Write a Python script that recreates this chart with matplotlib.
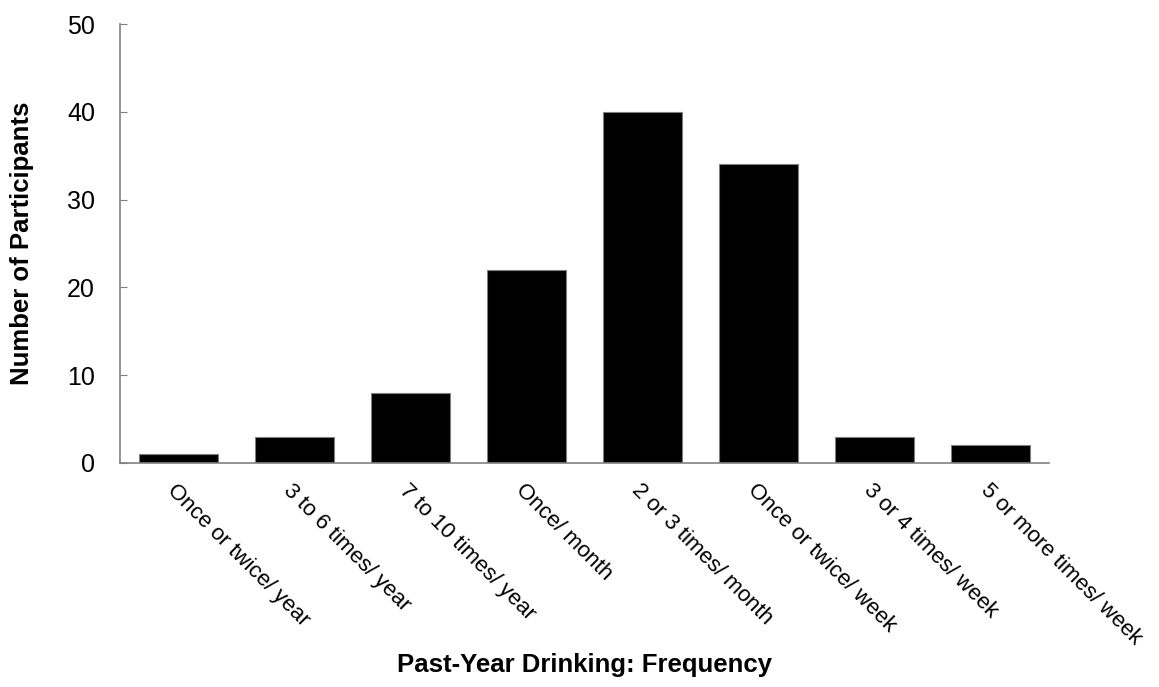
import numpy as np
import matplotlib.pyplot as plt

plt.rcParams['font.family'] = ['Liberation Sans', 'DejaVu Sans']

#-----------------------
#        Data
#-----------------------
categories = ['Once or twice/ year', '3 to 6 times/ year', '7 to 10 times/ year',
              'Once/ month', '2 or 3 times/ month', 'Once or twice/ week',
              '3 or 4 times/ week', '5 or more times/ week']
participants = [1, 3, 8, 22, 40, 34, 3, 2]
y_ticks = [0, 10, 20, 30, 40, 50]

fig = plt.figure(figsize=(11.59, 6.87), dpi=100)
ax = fig.add_axes([120/1159, 1 - 463/687, (1049-120)/1159, (463-24)/687])

x = np.arange(len(categories))
ax.bar(x, participants, width=0.68, color='black', edgecolor='#808080', linewidth=0.8)

ax.set_xlim(-0.5, len(categories) - 0.5)
ax.set_ylim(0, 50)
ax.set_yticks(y_ticks)
ax.tick_params(axis='y', direction='in', length=5, color='#808080', labelsize=18, pad=18)
ax.set_xticks(x)
ax.set_xticklabels(categories, rotation=-45, ha='left', va='top',
                   rotation_mode='anchor', fontsize=16)
ax.tick_params(axis='x', length=0, pad=12)

for s in ['top', 'right']:
    ax.spines[s].set_visible(False)
for s in ['left', 'bottom']:
    ax.spines[s].set_color('#808080')
    ax.spines[s].set_linewidth(1.2)

ax.set_ylabel('Number of Participants', fontsize=18.5, fontweight='bold')
ax.yaxis.set_label_coords(-86/929, 0.5)
fig.text((120 + 1049) / 2 / 1159, 1 - 665/687, 'Past-Year Drinking: Frequency',
         ha='center', va='center', fontsize=18.5, fontweight='bold')

plt.savefig('out.png', dpi=100)
